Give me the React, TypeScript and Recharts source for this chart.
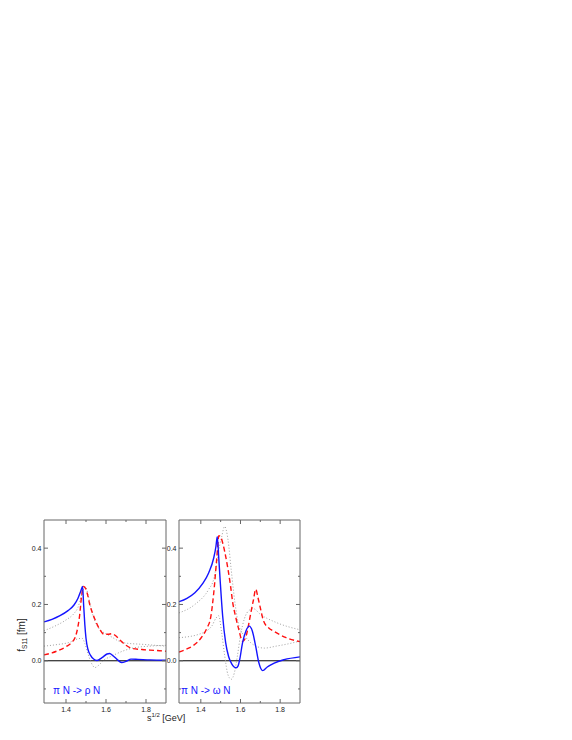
import React from 'react'
import { LineChart, Line, XAxis, YAxis, ReferenceLine } from 'recharts'

// pi N -> rho N  (left panel)
const rhoSolidX = [1.29, 1.33, 1.37, 1.41, 1.44, 1.46, 1.474, 1.483, 1.488, 1.494, 1.5, 1.51, 1.522, 1.538, 1.555, 1.58, 1.605, 1.618, 1.635, 1.655, 1.678, 1.7, 1.725, 1.76, 1.82, 1.9]
const rhoSolidY = [0.138, 0.147, 0.16, 0.178, 0.198, 0.222, 0.248, 0.264, 0.2, 0.13, 0.08, 0.04, 0.02, 0.006, 0.001, 0.011, 0.024, 0.026, 0.018, 0.005, -0.006, -0.002, 0.006, 0.005, 0.003, 0.002]
const rhoDashX = [1.29, 1.33, 1.36, 1.4, 1.43, 1.445, 1.458, 1.468, 1.478, 1.487, 1.497, 1.507, 1.52, 1.535, 1.55, 1.57, 1.59, 1.61, 1.63, 1.65, 1.675, 1.7, 1.73, 1.78, 1.84, 1.9]
const rhoDashY = [0.021, 0.028, 0.036, 0.05, 0.066, 0.082, 0.115, 0.16, 0.23, 0.264, 0.258, 0.237, 0.196, 0.165, 0.138, 0.11, 0.094, 0.094, 0.096, 0.088, 0.07, 0.055, 0.044, 0.04, 0.037, 0.034]
const rhoDotAX = [1.29, 1.35, 1.4, 1.44, 1.46, 1.475, 1.488, 1.498, 1.51, 1.532, 1.557, 1.58, 1.62, 1.687, 1.79, 1.9]
const rhoDotAY = [0.107, 0.125, 0.145, 0.168, 0.19, 0.226, 0.255, 0.263, 0.235, 0.168, 0.122, 0.105, 0.088, 0.064, 0.058, 0.052]
const rhoDotBX = [1.29, 1.35, 1.42, 1.46, 1.48, 1.495, 1.51, 1.525, 1.545, 1.565, 1.59, 1.62, 1.65, 1.69, 1.74, 1.82, 1.9]
const rhoDotBY = [0.052, 0.057, 0.066, 0.078, 0.08, 0.06, 0.025, -0.005, -0.024, -0.015, 0.003, 0.014, 0.024, 0.036, 0.046, 0.052, 0.055]

// pi N -> omega N  (right panel)
const omegaSolidX = [1.29, 1.33, 1.37, 1.41, 1.44, 1.465, 1.476, 1.483, 1.49, 1.498, 1.51, 1.525, 1.54, 1.555, 1.568, 1.578, 1.588, 1.597, 1.61, 1.627, 1.644, 1.66, 1.677, 1.693, 1.712, 1.735, 1.77, 1.82, 1.9]
const omegaSolidY = [0.21, 0.222, 0.242, 0.275, 0.313, 0.365, 0.405, 0.441, 0.37, 0.28, 0.16, 0.065, 0.015, -0.01, -0.022, -0.025, -0.018, 0.008, 0.063, 0.105, 0.123, 0.105, 0.05, -0.008, -0.035, -0.022, -0.008, 0.004, 0.014]
const omegaDashX = [1.29, 1.33, 1.36, 1.4, 1.43, 1.45, 1.465, 1.48, 1.491, 1.5, 1.512, 1.525, 1.537, 1.55, 1.561, 1.575, 1.59, 1.611, 1.628, 1.64, 1.652, 1.665, 1.677, 1.688, 1.698, 1.717, 1.74, 1.77, 1.83, 1.9]
const omegaDashY = [0.031, 0.042, 0.053, 0.08, 0.115, 0.155, 0.24, 0.36, 0.444, 0.44, 0.414, 0.372, 0.325, 0.265, 0.206, 0.158, 0.115, 0.069, 0.087, 0.125, 0.17, 0.215, 0.254, 0.225, 0.194, 0.14, 0.118, 0.104, 0.082, 0.068]
const omegaDotAX = [1.29, 1.37, 1.44, 1.465, 1.48, 1.495, 1.505, 1.52, 1.537, 1.553, 1.572, 1.594, 1.625, 1.655, 1.685, 1.72, 1.78, 1.84, 1.9]
const omegaDotAY = [0.17, 0.2, 0.254, 0.29, 0.345, 0.41, 0.44, 0.477, 0.43, 0.325, 0.206, 0.12, 0.085, 0.062, 0.05, 0.045, 0.052, 0.06, 0.07]
const omegaDotBX = [1.29, 1.39, 1.455, 1.475, 1.49, 1.505, 1.52, 1.537, 1.553, 1.569, 1.585, 1.6, 1.62, 1.645, 1.665, 1.7, 1.78, 1.9]
const omegaDotBY = [0.082, 0.094, 0.123, 0.15, 0.16, 0.1, 0.02, -0.05, -0.066, -0.043, 0.02, 0.09, 0.15, 0.18, 0.185, 0.165, 0.136, 0.11]

const xTicks = [1.4, 1.5, 1.6, 1.7, 1.8]
const yTicks = [-0.1, 0, 0.1, 0.2, 0.3, 0.4]

const zip = (xs: number[], ys: number[]) => xs.map((x, i) => ({ x, y: ys[i] }))

const FRAME = '#666'
const FONT = "'Liberation Sans', Arial, sans-serif"
const BLUE = '#1414ff'
const RED = '#ff1010'
const GREY = '#a0a0a0'

const isMajor = (v: number) => Math.round(v * 10) % 2 === 0

const BottomTick = (p: any) => {
  const major = isMajor(p.payload.value)
  return (
    <g>
      <line x1={p.x} x2={p.x} y1={p.y} y2={p.y - (major ? 4 : 2)} stroke={FRAME} />
      {major && (
        <text x={p.x} y={p.y + 9} textAnchor="middle" fontSize={7} fontFamily={FONT} fill="#222">
          {p.payload.value.toFixed(1)}
        </text>
      )}
    </g>
  )
}

const TopTick = (p: any) => {
  const major = isMajor(p.payload.value)
  return <line x1={p.x} x2={p.x} y1={p.y} y2={p.y + (major ? 4 : 2)} stroke={FRAME} />
}

const LeftTick = (p: any) => {
  const major = isMajor(p.payload.value)
  return (
    <g>
      <line x1={p.x} x2={p.x + (major ? 4 : 2)} y1={p.y} y2={p.y} stroke={FRAME} />
      {major && (
        <text x={p.x - 2.5} y={p.y + 2.5} textAnchor="end" fontSize={7} fontFamily={FONT} fill="#222">
          {Math.abs(p.payload.value).toFixed(1)}
        </text>
      )}
    </g>
  )
}

const RightTick = (p: any) => {
  const major = isMajor(p.payload.value)
  return <line x1={p.x} x2={p.x - (major ? 4 : 2)} y1={p.y} y2={p.y} stroke={FRAME} />
}

type Pt = { x: number; y: number }
type PanelProps = { left: number; width: number; marginLeft: number; solid: Pt[]; dash: Pt[]; dotA: Pt[]; dotB: Pt[] }

function Panel({ left, width, marginLeft, solid, dash, dotA, dotB }: PanelProps) {
  const xDomain = [1.29, 1.9]
  const yDomain = [-0.15, 0.5]
  const axisCommon = {
    type: 'number' as const,
    allowDataOverflow: true,
    tickSize: 0,
    tickMargin: 0,
    tickLine: false,
    axisLine: { stroke: FRAME },
    interval: 0 as const,
  }
  return (
    <div style={{ position: 'absolute', left, top: 510 }}>
      <LineChart width={width} height={215} margin={{ top: 6, right: 0, bottom: 0, left: marginLeft - 20 }}>
        <XAxis {...axisCommon} dataKey="x" domain={xDomain} ticks={xTicks} height={22} tick={BottomTick} />
        <XAxis {...axisCommon} xAxisId="top" orientation="top" dataKey="x" domain={xDomain} ticks={xTicks} height={4} tick={TopTick} />
        <YAxis {...axisCommon} domain={yDomain} ticks={yTicks} width={20} tick={LeftTick} />
        <YAxis {...axisCommon} yAxisId="right" orientation="right" domain={yDomain} ticks={yTicks} width={4} tick={RightTick} />
        <ReferenceLine y={0} stroke="#000" strokeWidth={1} />
        <Line data={dotA} dataKey="y" type="monotone" stroke={GREY} strokeWidth={1} strokeDasharray="1 2" dot={false} isAnimationActive={false} />
        <Line data={dotB} dataKey="y" type="monotone" stroke={GREY} strokeWidth={1} strokeDasharray="1 2" dot={false} isAnimationActive={false} />
        <Line data={dash} dataKey="y" type="monotone" stroke={RED} strokeWidth={1.4} strokeDasharray="5 3" dot={false} isAnimationActive={false} />
        <Line data={solid} dataKey="y" type="monotone" stroke={BLUE} strokeWidth={1.4} dot={false} isAnimationActive={false} />
      </LineChart>
    </div>
  )
}

export default function App() {
  return (
    <div style={{ position: 'absolute', left: 0, top: 0, width: 572, height: 740, background: '#fff' }}>
      <Panel left={0} width={170} marginLeft={44}
        solid={zip(rhoSolidX, rhoSolidY)} dash={zip(rhoDashX, rhoDashY)}
        dotA={zip(rhoDotAX, rhoDotAY)} dotB={zip(rhoDotBX, rhoDotBY)} />
      <Panel left={150} width={154} marginLeft={29}
        solid={zip(omegaSolidX, omegaSolidY)} dash={zip(omegaDashX, omegaDashY)}
        dotA={zip(omegaDotAX, omegaDotAY)} dotB={zip(omegaDotBX, omegaDotBY)} />
      <svg width={572} height={740} style={{ position: 'absolute', left: 0, top: 0, pointerEvents: 'none' }}>
        <text x={53} y={694} fontSize={10} fontFamily={FONT} fill={BLUE}>
          π N -{'>'} ρ N
        </text>
        <text x={181} y={694} fontSize={10} fontFamily={FONT} fill={BLUE}>
          π N -{'>'} ω N
        </text>
        <text x={147} y={721} fontSize={9} fontFamily={FONT} fill="#222">
          s<tspan fontSize={6} dy={-4}>1/2</tspan>
          <tspan dy={4}> [GeV]</tspan>
        </text>
        <text transform="translate(25 635) rotate(-90)" textAnchor="middle" fontSize={10} fontFamily={FONT} fill="#222">
          f<tspan fontSize={6.5} dy={2}>S11</tspan>
          <tspan dy={-2}> [fm]</tspan>
        </text>
      </svg>
    </div>
  )
}
